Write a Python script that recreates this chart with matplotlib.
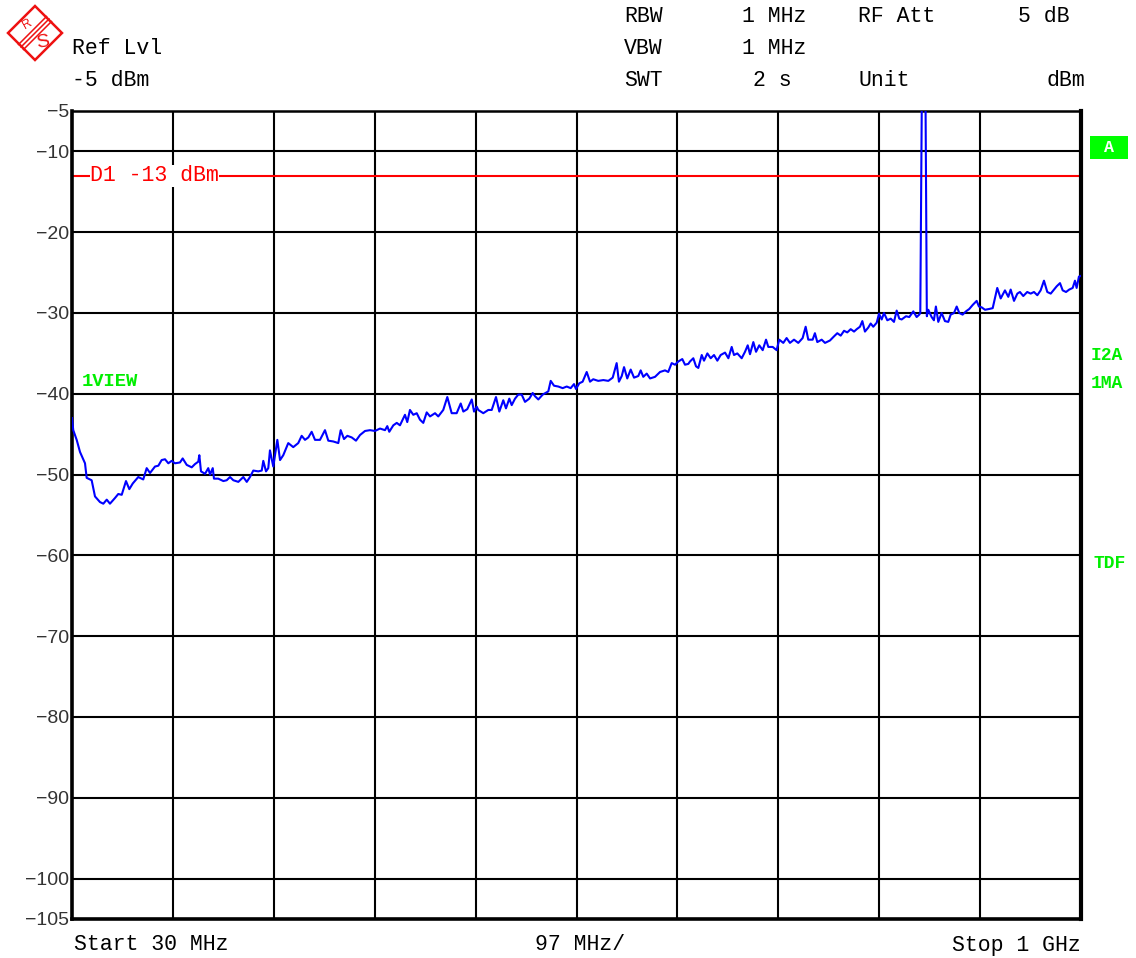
import matplotlib
matplotlib.use('Agg')
import matplotlib.pyplot as plt
from matplotlib.patches import Polygon, Rectangle
import numpy as np

# trace (MHz, dBm)
freq_mhz = [
    30.0, 31.2, 34.5, 37.7, 42.5, 44.1, 48.9, 52.1, 56.9, 60.1, 63.4, 66.5, 71.3, 74.5,
    77.8, 81.9, 85.1, 88.4, 93.7, 98.5, 101.8, 105.0, 109.8, 113.0, 116.2, 119.4, 122.6,
    125.8, 129.0, 133.8, 136.4, 140.3, 145.1, 148.2, 151.4, 152.4, 154.0, 157.9, 161.0,
    162.7, 165.3, 166.5, 170.6, 175.5, 178.7, 181.9, 185.1, 189.9, 194.7, 198.0, 201.1,
    204.3, 209.1, 212.4, 213.9, 216.5, 218.7, 220.3, 223.5, 227.4, 230.0, 233.1, 237.9,
    242.7, 247.5, 250.8, 254.0, 257.2, 260.4, 263.6, 268.4, 273.2, 276.4, 281.2, 286.0,
    288.3, 291.5, 294.7, 298.9, 303.0, 306.9, 311.7, 316.5, 321.3, 326.1, 330.9, 333.1,
    335.0, 338.9, 342.2, 345.3, 350.1, 352.3, 354.9, 358.1, 361.4, 364.5, 367.7, 371.0,
    374.2, 379.0, 382.1, 386.9, 390.8, 395.0, 399.8, 403.7, 406.2, 410.0, 414.3, 416.5,
    419.1, 420.6, 425.4, 430.2, 433.5, 437.6, 440.8, 444.6, 447.2, 450.4, 452.7, 455.9,
    459.0, 462.3, 465.5, 469.6, 472.9, 475.1, 478.3, 482.5, 487.9, 490.2, 493.4, 497.5,
    501.7, 505.6, 509.4, 512.6, 514.5, 517.7, 520.9, 524.8, 528.0, 531.1, 535.9, 540.8,
    545.6, 549.8, 553.6, 555.8, 558.5, 560.7, 563.8, 567.1, 570.3, 574.4, 576.7, 579.2,
    582.5, 585.7, 590.5, 595.3, 600.1, 603.2, 606.5, 609.7, 612.9, 616.7, 619.3, 622.5,
    624.1, 627.3, 629.9, 632.1, 635.4, 637.6, 640.8, 644.0, 647.2, 650.4, 653.6, 657.8,
    661.0, 664.2, 666.4, 669.6, 673.8, 677.0, 679.6, 681.8, 685.0, 687.6, 690.7, 694.0,
    697.2, 699.4, 703.6, 707.4, 709.9, 713.8, 717.0, 720.2, 724.1, 728.2, 732.4, 735.3,
    737.8, 742.0, 744.2, 746.5, 750.7, 753.9, 758.7, 762.5, 765.7, 769.0, 772.2, 775.3,
    778.6, 781.8, 784.4, 787.5, 789.8, 792.3, 795.5, 797.8, 800.3, 803.6, 805.8, 808.4,
    810.6, 813.8, 817.1, 820.2, 822.8, 825.3, 827.6, 831.8, 834.9, 838.8, 842.0, 844.5,
    845.5, 847.0, 850.5, 851.8, 853.2, 856.4, 858.6, 860.5, 862.8, 866.0, 869.2, 872.4,
    874.7, 877.9, 880.5, 883.0, 886.2, 889.4, 892.6, 895.9, 899.7, 901.9, 904.5, 907.7,
    911.8, 915.1, 919.5, 922.8, 926.9, 930.1, 932.4, 935.6, 938.8, 941.3, 944.5, 948.3,
    951.6, 954.8, 958.0, 961.2, 964.4, 967.6, 970.9, 974.0, 976.6, 979.8, 982.4, 985.6,
    988.7, 992.0, 994.2, 995.8, 998.0, 1000.0,
]
level_dbm = [
    -43.0, -44.5, -45.7, -47.2, -48.6, -50.4, -50.7, -52.7, -53.4, -53.6, -53.1, -53.6, -52.9, -52.4,
    -52.5, -50.8, -51.8, -51.1, -50.3, -50.6, -49.2, -49.8, -49.0, -48.9, -48.2, -48.1, -48.6,
    -48.3, -48.6, -48.5, -48.0, -48.8, -49.1, -48.7, -48.4, -47.6, -49.6, -49.9, -49.2,
    -50.0, -49.2, -50.5, -50.5, -50.8, -50.7, -50.3, -50.7, -50.9, -50.3, -50.9, -50.3,
    -49.5, -49.6, -49.5, -48.3, -49.6, -49.2, -47.0, -49.0, -45.7, -48.2, -47.6, -46.1,
    -46.6, -46.1, -45.2, -45.7, -45.4, -44.7, -45.7, -45.7, -44.5, -45.8, -45.9, -46.1,
    -44.5, -45.6, -45.2, -45.4, -45.8, -45.1, -44.6, -44.5, -44.6, -44.3, -44.5, -44.0,
    -44.7, -43.9, -43.6, -43.9, -42.6, -43.5, -42.0, -42.6, -42.4, -43.2, -43.6, -42.3,
    -42.8, -42.4, -42.8, -42.0, -40.4, -42.4, -42.4, -41.2, -42.2, -41.9, -40.7, -42.2,
    -41.6, -42.0, -42.4, -42.0, -42.0, -40.4, -42.2, -40.8, -41.8, -40.6, -41.4, -40.6,
    -40.1, -40.1, -41.0, -40.6, -39.9, -40.3, -40.7, -40.1, -39.7, -38.4, -39.0, -39.1,
    -39.3, -39.1, -39.3, -38.8, -39.4, -38.7, -38.5, -37.3, -38.5, -38.2, -38.4, -38.3,
    -38.4, -38.0, -36.2, -38.5, -37.8, -36.7, -38.1, -37.0, -38.0, -37.8, -37.1, -37.9,
    -37.5, -38.1, -37.9, -37.3, -37.1, -37.3, -36.2, -36.4, -36.0, -35.7, -36.4, -36.3,
    -36.0, -35.6, -36.6, -36.8, -35.2, -35.9, -35.0, -35.6, -35.2, -35.9, -35.2, -34.9,
    -35.6, -34.2, -35.2, -35.0, -35.6, -34.8, -34.0, -35.1, -33.6, -34.8, -34.0, -34.6,
    -33.3, -34.2, -34.2, -34.6, -33.3, -33.7, -33.1, -33.7, -33.3, -33.7, -33.1, -31.7,
    -33.3, -33.3, -32.5, -33.6, -33.3, -33.7, -33.4, -32.9, -32.5, -32.8, -32.2, -32.4,
    -32.0, -32.3, -32.0, -31.7, -31.0, -32.3, -31.8, -31.3, -31.7, -31.2, -30.1, -30.8,
    -30.0, -30.9, -30.7, -31.1, -29.7, -30.7, -30.8, -30.4, -30.5, -29.8, -30.5, -30.2,
    -30.0, -3.0, -3.0, -30.4, -29.6, -30.5, -30.9, -29.2, -31.1, -30.0, -31.0, -31.1,
    -30.2, -30.0, -29.2, -30.0, -30.2, -29.8, -29.5, -29.0, -28.5, -29.2, -29.3, -29.6,
    -29.5, -29.4, -26.9, -28.2, -27.2, -28.0, -27.1, -28.5, -27.6, -27.4, -27.9, -27.4,
    -27.6, -27.4, -27.8, -27.2, -26.0, -27.4, -27.6, -27.1, -26.7, -26.3, -27.2, -27.4,
    -27.1, -26.9, -26.0, -26.9, -25.5, -25.4,
]

start_mhz, stop_mhz = 30, 1000
ref_lvl, bottom_lvl = -5, -105
display_line = -13
ytick_vals = [-5, -10, -20, -30, -40, -50, -60, -70, -80, -90, -100, -105]

W, H = 1136, 958
MONO = 'Liberation Mono'
SANS = 'Liberation Sans'
GREEN = '#00ee00'
RS_RED = '#ee1111'


def px(x, y):
    """ pixel position -> figure fraction """
    return x / W, 1 - y / H


fig = plt.figure(figsize=(W / 100, H / 100), dpi=100)
ax = fig.add_axes([72 / W, 1 - 919 / H, (1081 - 72) / W, (919 - 111) / H])

# grid, 10 divisions each way
div = (stop_mhz - start_mhz) / 10
for k in range(1, 10):
    ax.axvline(start_mhz + k * div, color='black', lw=1.5, zorder=1)
for v in range(-10, -101, -10):
    ax.axhline(v, color='black', lw=1.5, zorder=1)

# display line D1
ax.axhline(display_line, color='#ff0000', lw=1.5, zorder=2)
ax.text(47.5, display_line, 'D1 -13 dBm', color='#ff0000', family=MONO, fontsize=15.5,
        va='center', ha='left', zorder=3,
        bbox=dict(facecolor='white', edgecolor='none', pad=0.3))

ax.plot(freq_mhz, level_dbm, color='#0000ff', lw=1.5, zorder=4)

ax.set_xlim(start_mhz, stop_mhz)
ax.set_ylim(bottom_lvl, ref_lvl)
ax.set_xticks([])
ax.set_yticks(ytick_vals)
ax.set_yticklabels(['\u2212%d' % abs(v) for v in ytick_vals], family=SANS, fontsize=14, color='#333333')
ax.tick_params(axis='y', length=0, pad=2)
for side, lw in [('left', 2.6), ('bottom', 2.6), ('right', 3.0), ('top', 1.8)]:
    ax.spines[side].set_linewidth(lw)
    ax.spines[side].set_color('black')

ax.text(0.0099, 0.665, '1VIEW', transform=ax.transAxes, color=GREEN, family=MONO,
        fontsize=13.5, fontweight='bold', va='center', ha='left')

# header
hdr = dict(family=MONO, fontsize=15.5, color='black', va='center')
fig.text(*px(624, 16), 'RBW', ha='left', **hdr)
fig.text(*px(806, 16), '1 MHz', ha='right', **hdr)
fig.text(*px(858, 16), 'RF Att', ha='left', **hdr)
fig.text(*px(1070, 16), '5 dB', ha='right', **hdr)
fig.text(*px(72, 48), 'Ref Lvl', ha='left', **hdr)
fig.text(*px(624, 48), 'VBW', ha='left', **hdr)
fig.text(*px(806, 48), '1 MHz', ha='right', **hdr)
fig.text(*px(72, 81), '-5 dBm', ha='left', **hdr)
fig.text(*px(624, 81), 'SWT', ha='left', **hdr)
fig.text(*px(792, 81), '2 s', ha='right', **hdr)
fig.text(*px(858, 81), 'Unit', ha='left', **hdr)
fig.text(*px(1085, 81), 'dBm', ha='right', **hdr)

# footer
fig.text(*px(74, 945), 'Start 30 MHz', ha='left', **hdr)
fig.text(*px(580, 945), '%d MHz/' % div, ha='center', **hdr)
fig.text(*px(1081, 945), 'Stop 1 GHz', ha='right', **hdr)

# right side status
fig.patches.append(Rectangle(px(1090, 159), 38 / W, 23 / H, transform=fig.transFigure,
                             facecolor='#00ff00', edgecolor='none'))
fig.text(*px(1109, 147), 'A', ha='center', va='center', family=MONO, fontsize=12,
         fontweight='bold', color='white')
side = dict(family=MONO, fontsize=13, fontweight='bold', color=GREEN, va='center', ha='left')
fig.text(*px(1091, 356), 'I2A', **side)
fig.text(*px(1091, 383), '1MA', **side)
fig.text(*px(1093, 563), 'TDF', **side)

# logo
cx, cy, r = 35, 33, 27
diamond = [px(cx, cy - r), px(cx + r, cy), px(cx, cy + r), px(cx - r, cy)]
fig.patches.append(Polygon(diamond, closed=True, transform=fig.transFigure,
                           facecolor='white', edgecolor=RS_RED, lw=1.8))
for off in (-2.5, 0, 2.5):
    a = px(cx - 14 + off, cy + 14 + off)
    b = px(cx + 14 + off, cy - 14 + off)
    fig.lines.append(plt.Line2D([a[0], b[0]], [a[1], b[1]], transform=fig.transFigure,
                                color=RS_RED, lw=1.1))
fig.text(*px(27, 24), 'R', family=SANS, fontsize=9, color=RS_RED, rotation=30,
         ha='center', va='center')
fig.text(*px(43, 42), 'S', family=SANS, fontsize=14, color=RS_RED, rotation=10,
         ha='center', va='center')

fig.savefig('out.png', dpi=100)
